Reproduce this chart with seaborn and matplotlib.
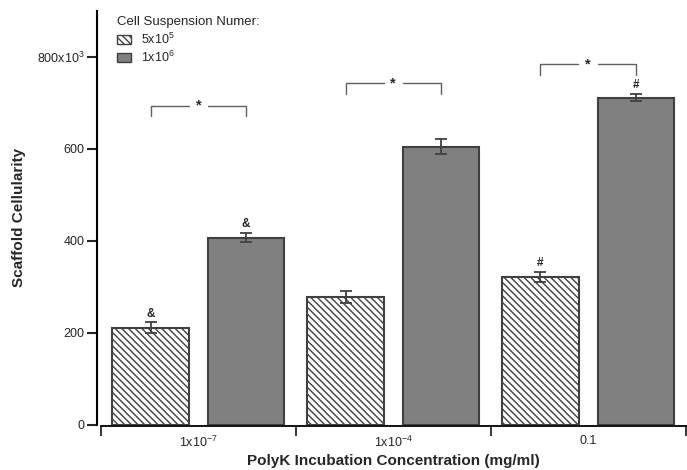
import matplotlib
matplotlib.use('Agg')
import matplotlib.pyplot as plt
import pandas as pd
import seaborn as sns

# Data (values in thousands)
concentrations = ['1x10$^{-7}$', '1x10$^{-4}$', '0.1']
suspensions = ['5x10$^5$', '1x10$^6$']
low_means = [211, 278, 321]
low_errs = [12, 14, 11]
high_means = [407, 605, 711]
high_errs = [10, 16, 8]
low_marks = ['&', '', '#']
high_marks = ['&', '', '#']
bracket_tops = [694, 743, 784]
bracket_drop = 23
ytick_vals = [0, 200, 400, 600, 800]
ytick_labels = ['0', '200', '400', '600', '800x10$^3$']

df = pd.DataFrame({
    'conc': concentrations * 2,
    'susp': [suspensions[0]] * 3 + [suspensions[1]] * 3,
    'value': low_means + high_means,
})

sns.set_style('white')
plt.rcParams['font.family'] = ['Liberation Sans', 'DejaVu Sans']
plt.rcParams['mathtext.fontset'] = 'custom'
plt.rcParams['mathtext.rm'] = 'Liberation Sans'
plt.rcParams['mathtext.it'] = 'Liberation Sans:italic'
plt.rcParams['mathtext.bf'] = 'Liberation Sans:bold'
plt.rcParams['hatch.color'] = '#404040'
plt.rcParams['hatch.linewidth'] = 1.0

fig = plt.figure(figsize=(6.87, 4.70), dpi=100)
ax = fig.add_axes([0.147, 0.096, 0.851, 0.881])

sns.barplot(data=df, x='conc', y='value', hue='susp', order=concentrations,
            hue_order=suspensions, palette=['white', '#808080'],
            edgecolor='#404040', linewidth=1.5, width=0.98, gap=0.2,
            errorbar=None, legend=False, ax=ax)

for bar in ax.containers[0]:
    bar.set_hatch('\\\\\\\\\\')

# error bars and markers
centers = []
for cont, errs, marks in zip(ax.containers, [low_errs, high_errs], [low_marks, high_marks]):
    xs = [b.get_x() + b.get_width() / 2 for b in cont]
    ys = [b.get_height() for b in cont]
    centers.append(xs)
    ax.errorbar(xs, ys, yerr=errs, fmt='none', ecolor='#404040',
                elinewidth=1.3, capsize=4, capthick=1.3, zorder=3)
    for x, y, e, m in zip(xs, ys, errs, marks):
        if m:
            ax.annotate(m, (x, y + e), xytext=(0, 2), textcoords='offset points',
                        ha='center', va='bottom', fontsize=8.5, fontweight='bold')

# significance brackets
for x0, x1, top in zip(centers[0], centers[1], bracket_tops):
    xm = (x0 + x1) / 2
    ax.plot([x0, x0, xm - 0.05], [top - bracket_drop, top, top], color='#606060', lw=1)
    ax.plot([xm + 0.05, x1, x1], [top, top, top - bracket_drop], color='#606060', lw=1)
    ax.text(xm, top, '*', ha='center', va='center', fontsize=10.5, fontweight='bold')

ax.set_xlim(-0.5, 2.5)
ax.set_ylim(0, 900)
ax.set_yticks(ytick_vals, ytick_labels)
ax.set_xticks(range(len(concentrations)), concentrations)
ax.set_xticks([-0.5, 0.5, 1.5, 2.5], minor=True)
ax.tick_params(axis='x', which='major', length=0, labelsize=9, pad=6)
ax.tick_params(axis='x', which='minor', length=7, width=1.3, direction='out', bottom=True)
ax.tick_params(axis='y', length=7, width=1.5, direction='out', left=True, labelsize=9, pad=2)

sns.despine(ax=ax)
ax.spines['left'].set_linewidth(1.5)
ax.spines['bottom'].set_linewidth(1.3)
ax.spines['left'].set_position(('outward', 3))
ax.spines['bottom'].set_position(('outward', 1))
ax.spines['left'].set_color('black')
ax.spines['bottom'].set_color('black')

ax.set_xlabel('PolyK Incubation Concentration (mg/ml)', fontsize=11, fontweight='bold', labelpad=3)
ax.set_ylabel('Scaffold Cellularity', fontsize=11, fontweight='bold', labelpad=8)

leg = ax.legend(ax.containers, suspensions, title='Cell Suspension Numer:',
                loc='upper left', bbox_to_anchor=(0.015, 1.005), frameon=False,
                fontsize=9, title_fontsize=9.5, handlelength=1.1, handleheight=0.7,
                handletextpad=0.8, labelspacing=0.25, alignment='left',
                borderaxespad=0.2)
for h in leg.legend_handles:
    h.set_linewidth(1.0)

fig.savefig('out.png', dpi=100)
